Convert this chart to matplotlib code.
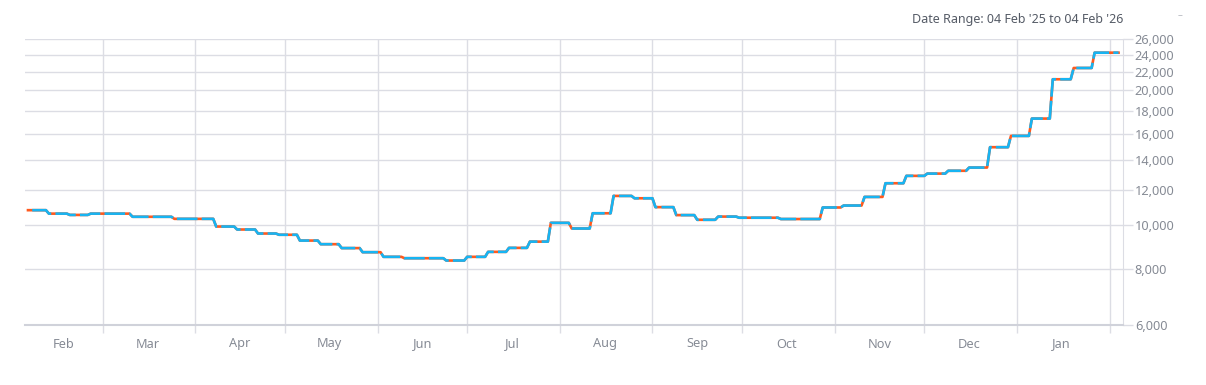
import matplotlib
matplotlib.use("Agg")
import matplotlib.pyplot as plt
import matplotlib.dates as mdates
import matplotlib.ticker as mticker
import numpy as np
import pandas as pd

# ---- data ----
start_date = "2025-02-04"
end_date = "2026-02-04"
# weekly price levels (each level holds for 7 days starting at start_date)
weekly_levels = [10810, 10620, 10550, 10620, 10620, 10450, 10450, 10340, 10340, 9940,
                 9790, 9590, 9530, 9250, 9080, 8900, 8715, 8510, 8450, 8450,
                 8350, 8510, 8730, 8910, 9200, 10130, 9840, 10640, 11630, 11490,
                 10980, 10540, 10290, 10460, 10400, 10400, 10330, 10330, 10960, 11070,
                 11570, 12410, 12890, 13040, 13230, 13450, 14930, 15820, 17290, 21150,
                 22410, 24240]
y_ticks = [6000, 8000, 10000, 12000, 14000, 16000, 18000, 20000, 22000, 24000, 26000]
title_text = "Date Range: 04 Feb '25 to 04 Feb '26"

dates = pd.date_range(start_date, end_date, freq="D")
idx = np.minimum(np.arange(len(dates)) // 7, len(weekly_levels) - 1)
values = np.array(weekly_levels)[idx]

# ---- style ----
plt.rcParams['font.family'] = ['Noto Sans', 'DejaVu Sans']
grid_c = "#dcdde4"
text_c = "#868b95"
blue = "#17b4f2"
orange = "#ff5a1e"

fig = plt.figure(figsize=(12.06, 3.85), dpi=100)
ax = fig.add_axes([25 / 1206, 1 - 325 / 385, (1123 - 25) / 1206, (325 - 39) / 385])

ax.plot(dates, values, color=orange, lw=1.9, solid_joinstyle="round", zorder=3)
ax.plot(dates, values, color=blue, lw=1.9, linestyle=(7.8, (7.8, 1.6)),
        dash_joinstyle="round", dash_capstyle="butt", zorder=4)

ax.set_yscale("log")
ax.set_ylim(6000, 26000)
ax.set_xlim(pd.Timestamp("2025-02-03"), pd.Timestamp("2026-02-05 12:00"))
ax.yaxis.set_major_locator(mticker.FixedLocator(y_ticks))
ax.yaxis.set_minor_locator(mticker.NullLocator())
ax.yaxis.set_major_formatter(mticker.FuncFormatter(lambda v, p: f"{int(round(v)):,}"))
ax.yaxis.tick_right()

ax.xaxis.set_major_locator(mdates.MonthLocator(bymonthday=1))
ax.xaxis.set_major_formatter(mticker.NullFormatter())
ax.xaxis.set_minor_locator(mdates.MonthLocator(bymonthday=16))
ax.xaxis.set_minor_formatter(mdates.DateFormatter("%b"))

ax.grid(True, which="major", axis="both", color=grid_c, lw=1)
ax.set_axisbelow(True)
ax.tick_params(axis="y", which="major", length=7.5, width=1, color=grid_c,
               labelsize=9.2, labelcolor=text_c, pad=1)
ax.tick_params(axis="x", which="major", length=6, width=1, color=grid_c)
ax.tick_params(axis="x", which="minor", length=0, labelsize=9.2, labelcolor=text_c, pad=9)

for s in ["top", "left"]:
    ax.spines[s].set_visible(False)
ax.spines["right"].set_color(grid_c)
ax.spines["bottom"].set_color("#d0d2da")
ax.spines["bottom"].set_linewidth(1.5)

ax.text(1.0, 1.045, title_text, transform=ax.transAxes, ha="right", va="bottom",
        fontsize=9, color="#555b66", fontweight="semibold")
fig.text(1180 / 1206, 1 - 16 / 385, "\u2013", ha="center", va="center", fontsize=7, color="#b0b3ba")

fig.savefig("out.png", dpi=100)
